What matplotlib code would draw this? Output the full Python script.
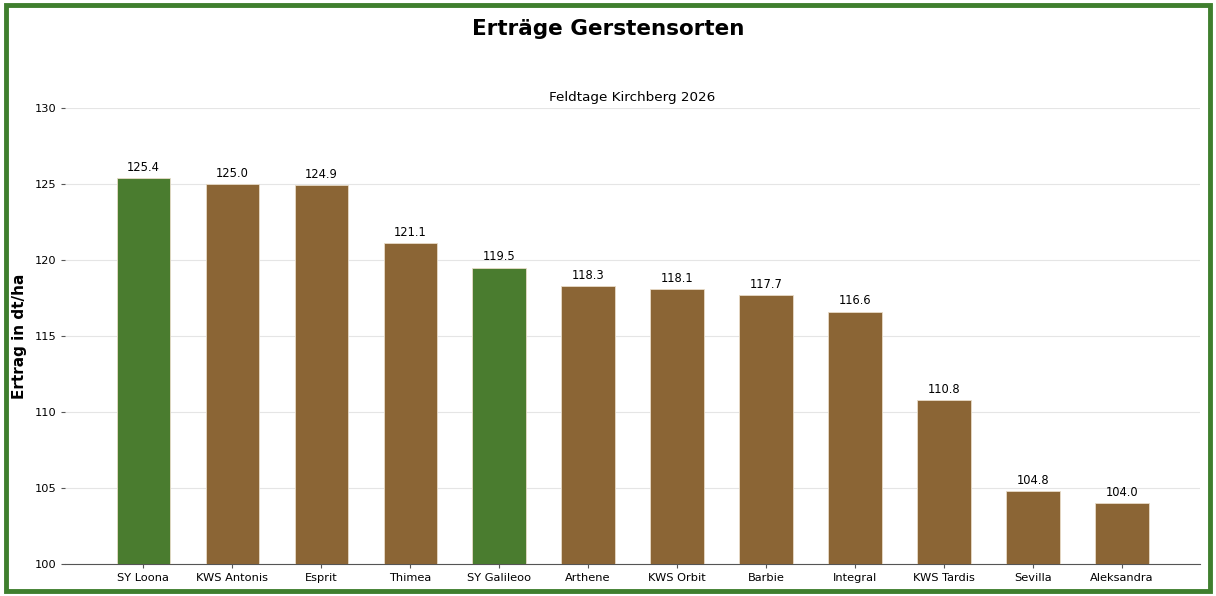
import matplotlib
matplotlib.use('Agg')
import matplotlib.pyplot as plt
import matplotlib.patches as mpatches
import numpy as np

GREEN = '#4a7c2f'
BROWN = '#8b6535'
BORDER = '#3f7f2e'

sorten = ['SY Loona', 'KWS Antonis', 'Esprit', 'Thimea', 'SY Galileoo', 'Arthene',
          'KWS Orbit', 'Barbie', 'Integral', 'KWS Tardis', 'Sevilla', 'Aleksandra']
ertrag = [125.4, 125.0, 124.9, 121.1, 119.5, 118.3, 118.1, 117.7, 116.6, 110.8, 104.8, 104.0]
highlight = ['SY Loona', 'SY Galileoo']

fig = plt.figure(figsize=(12.16, 5.96), dpi=100)
fig.patch.set_facecolor('white')
ax = fig.add_axes([0.0535, 0.0537, 0.9335, 0.7653])

x = np.arange(len(sorten))
colors = [GREEN if s in highlight else BROWN for s in sorten]
bars = ax.bar(x, ertrag, 0.6, color=colors, edgecolor='#e8dcc8', linewidth=0.6, zorder=3)
for xi, v in zip(x, ertrag):
    ax.annotate(f'{v:.1f}', xy=(xi, v), xytext=(0, 3), textcoords='offset points',
                ha='center', va='bottom', fontsize=8.3)

ax.set_xticks(x)
ax.set_xticklabels(sorten, fontsize=8.2)
ax.set_ylim(100, 130)
ax.set_yticks([100, 105, 110, 115, 120, 125, 130])
ax.tick_params(axis='y', labelsize=8.2, length=3, color='#555555')
ax.tick_params(axis='x', length=3, color='#555555')
ax.yaxis.grid(True, color='#e5e5e5', linewidth=0.8, zorder=0)
ax.set_axisbelow(True)
for s in ['top', 'right', 'left']:
    ax.spines[s].set_visible(False)
ax.spines['bottom'].set_color('#555555')
ax.set_ylabel('Ertrag in dt/ha', fontsize=11, fontweight='bold', labelpad=5)
ax.set_title('Feldtage Kirchberg 2026', fontsize=9.7, pad=5)

fig.suptitle('Erträge Gerstensorten', fontsize=15.5, fontweight='bold', y=0.968)
fig.patches.append(mpatches.Rectangle((0.005, 0.008), 0.99, 0.984, transform=fig.transFigure,
                                      fill=False, edgecolor=BORDER, linewidth=3.5))

plt.savefig('out.png', dpi=100)
plt.close()
